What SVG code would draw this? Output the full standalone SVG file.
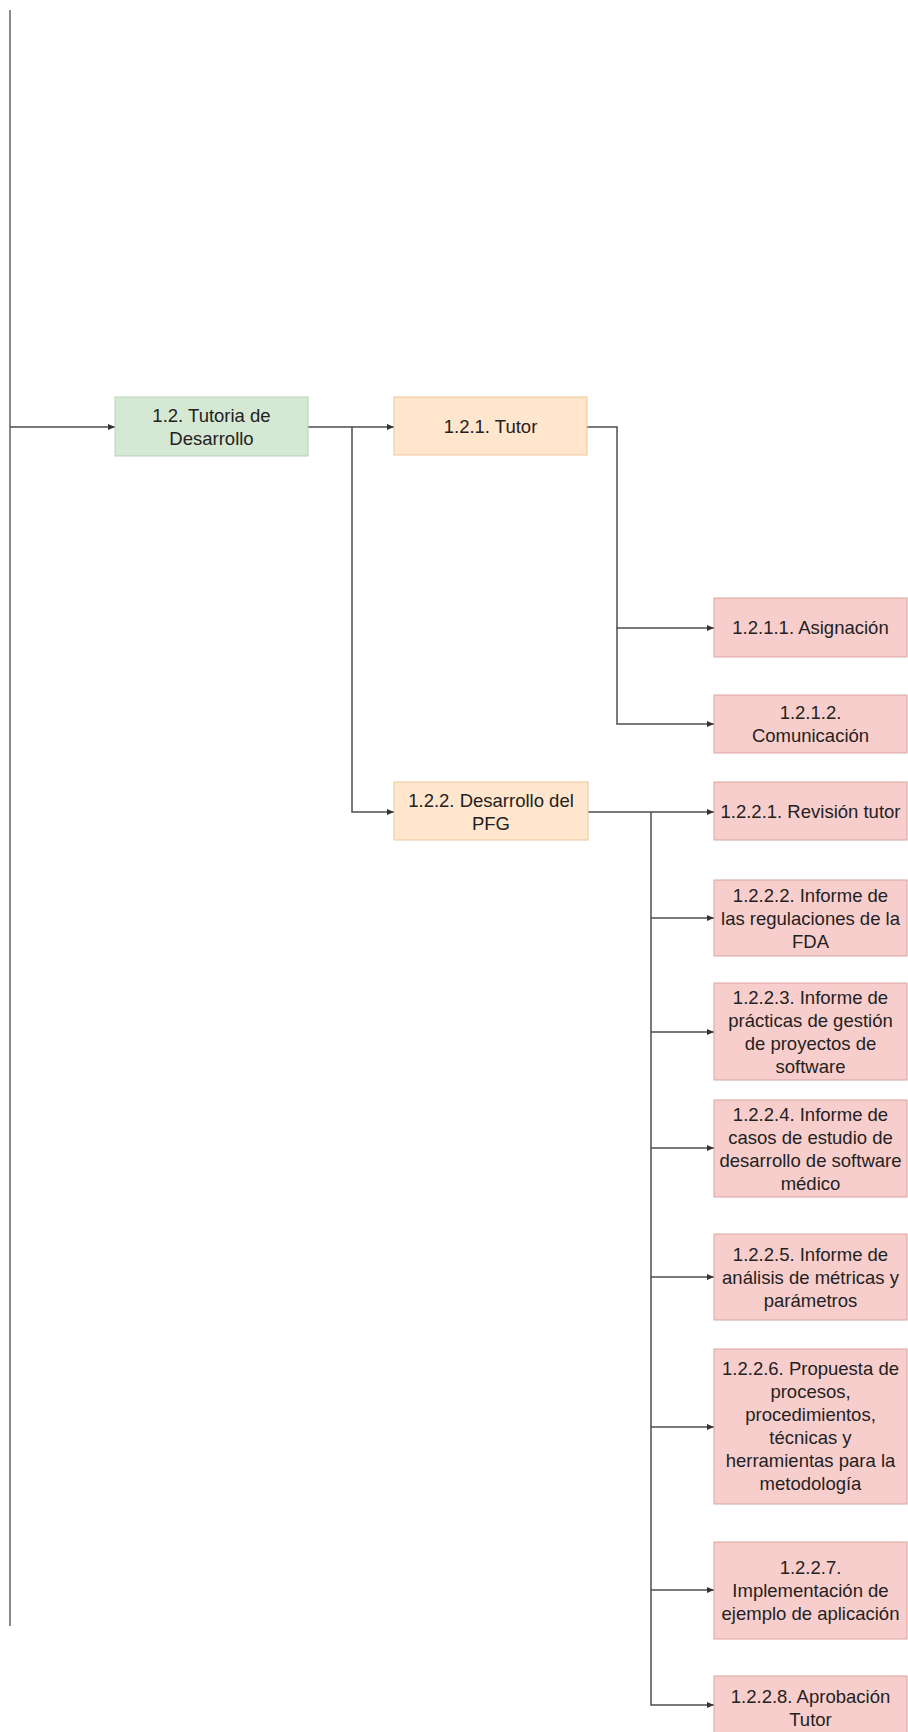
<svg xmlns="http://www.w3.org/2000/svg" width="908" height="1732" viewBox="0 0 908 1732">
  <style>
    .conn { fill: none; stroke: #4d4d4d; stroke-width: 1.5; }
    .trunk { fill: none; stroke: #8a8a8a; stroke-width: 2; }
    .green { fill: #d5e8d4; stroke: #b5d3b3; stroke-width: 1; }
    .orange { fill: #ffe6cc; stroke: #ecc79a; stroke-width: 1; }
    .red { fill: #f8cecc; stroke: #d9a3a0; stroke-width: 1; }
    text { font-family: "Liberation Sans", Arial, sans-serif; font-size: 18.5px; fill: #222; text-anchor: middle; }
  </style>
  <defs>
    <marker id="arrow" markerUnits="userSpaceOnUse" markerWidth="7" markerHeight="6" refX="7" refY="3" orient="auto">
      <path d="M0,0 L7,3 L0,6 z" fill="#333"/>
    </marker>
  </defs>
  <rect width="908" height="1732" fill="#ffffff"/>

  <!-- connectors -->
  <g id="connectors">
    <line class="trunk" x1="10" y1="10" x2="10" y2="1626"/>
    <path class="conn" d="M10,427 H115" marker-end="url(#arrow)"/>
    <path class="conn" d="M308,427 H394" marker-end="url(#arrow)"/>
    <path class="conn" d="M352,427 V812 H394" marker-end="url(#arrow)"/>
    <path class="conn" d="M587,427 H617 V628 H714" marker-end="url(#arrow)"/>
    <path class="conn" d="M617,628 V724 H714" marker-end="url(#arrow)"/>
    <path class="conn" d="M588,812 H714" marker-end="url(#arrow)"/>
    <path class="conn" d="M651,812 V1705 H714" marker-end="url(#arrow)"/>
    <path class="conn" d="M651,918 H714" marker-end="url(#arrow)"/>
    <path class="conn" d="M651,1032 H714" marker-end="url(#arrow)"/>
    <path class="conn" d="M651,1148 H714" marker-end="url(#arrow)"/>
    <path class="conn" d="M651,1277 H714" marker-end="url(#arrow)"/>
    <path class="conn" d="M651,1427 H714" marker-end="url(#arrow)"/>
    <path class="conn" d="M651,1590 H714" marker-end="url(#arrow)"/>
  </g>

  <!-- level 2 -->
  <g id="n1-2">
    <rect class="green" x="115" y="397" width="193" height="59"/>
    <text x="211.5" y="422">1.2. Tutoria de</text>
    <text x="211.5" y="445">Desarrollo</text>
  </g>

  <!-- level 3 -->
  <g id="n1-2-1">
    <rect class="orange" x="394" y="397" width="193" height="58"/>
    <text x="490.5" y="433">1.2.1. Tutor</text>
  </g>
  <g id="n1-2-2">
    <rect class="orange" x="394" y="782" width="194" height="58"/>
    <text x="491" y="807">1.2.2. Desarrollo del</text>
    <text x="491" y="830">PFG</text>
  </g>

  <!-- level 4 -->
  <g id="n1-2-1-1">
    <rect class="red" x="714" y="598" width="193" height="59"/>
    <text x="810.5" y="634">1.2.1.1. Asignación</text>
  </g>
  <g id="n1-2-1-2">
    <rect class="red" x="714" y="695" width="193" height="58"/>
    <text x="810.5" y="719">1.2.1.2.</text>
    <text x="810.5" y="742">Comunicación</text>
  </g>
  <g id="n1-2-2-1">
    <rect class="red" x="714" y="782" width="193" height="58"/>
    <text x="810.5" y="818">1.2.2.1. Revisión tutor</text>
  </g>
  <g id="n1-2-2-2">
    <rect class="red" x="714" y="880" width="193" height="76"/>
    <text x="810.5" y="902">1.2.2.2. Informe de</text>
    <text x="810.5" y="925">las regulaciones de la</text>
    <text x="810.5" y="948">FDA</text>
  </g>
  <g id="n1-2-2-3">
    <rect class="red" x="714" y="983" width="193" height="97"/>
    <text x="810.5" y="1004">1.2.2.3. Informe de</text>
    <text x="810.5" y="1027">prácticas de gestión</text>
    <text x="810.5" y="1050">de proyectos de</text>
    <text x="810.5" y="1073">software</text>
  </g>
  <g id="n1-2-2-4">
    <rect class="red" x="714" y="1100" width="193" height="97"/>
    <text x="810.5" y="1121">1.2.2.4. Informe de</text>
    <text x="810.5" y="1144">casos de estudio de</text>
    <text x="810.5" y="1167">desarrollo de software</text>
    <text x="810.5" y="1190">médico</text>
  </g>
  <g id="n1-2-2-5">
    <rect class="red" x="714" y="1234" width="193" height="86"/>
    <text x="810.5" y="1261">1.2.2.5. Informe de</text>
    <text x="810.5" y="1284">análisis de métricas y</text>
    <text x="810.5" y="1307">parámetros</text>
  </g>
  <g id="n1-2-2-6">
    <rect class="red" x="714" y="1349" width="193" height="155"/>
    <text x="810.5" y="1375">1.2.2.6. Propuesta de</text>
    <text x="810.5" y="1398">procesos,</text>
    <text x="810.5" y="1421">procedimientos,</text>
    <text x="810.5" y="1444">técnicas y</text>
    <text x="810.5" y="1467">herramientas para la</text>
    <text x="810.5" y="1490">metodología</text>
  </g>
  <g id="n1-2-2-7">
    <rect class="red" x="714" y="1542" width="193" height="97"/>
    <text x="810.5" y="1574">1.2.2.7.</text>
    <text x="810.5" y="1597">Implementación de</text>
    <text x="810.5" y="1620">ejemplo de aplicación</text>
  </g>
  <g id="n1-2-2-8">
    <rect class="red" x="714" y="1676" width="193" height="60"/>
    <text x="810.5" y="1703">1.2.2.8. Aprobación</text>
    <text x="810.5" y="1726">Tutor</text>
  </g>
</svg>
